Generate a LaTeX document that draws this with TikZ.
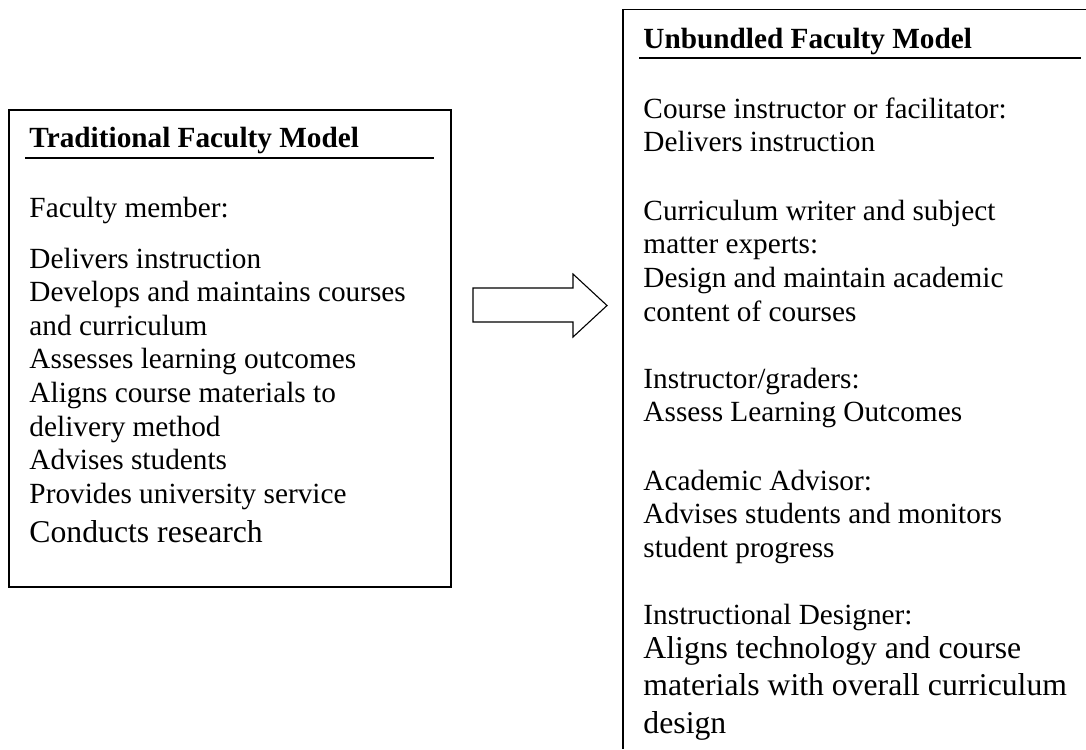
\documentclass[tikz,border=0pt]{standalone}
\usepackage{fontspec}
\setmainfont{Liberation Serif}
\begin{document}
\begin{tikzpicture}[x=0.41pt,y=-0.41pt]

        \tikzset{
          frame/.style={draw,line width=0.8pt},
          rule/.style={draw,line width=0.8pt},
          blockarrow/.style={draw,line width=0.45pt},
          entry/.style={anchor=base west,inner sep=0pt,align=left,font=\fontsize{12}{13.8}\selectfont},
          bigentry/.style={entry,font=\fontsize{13}{15.2}\selectfont},
          heading/.style={entry,font=\fontsize{12}{13.8}\selectfont\bfseries}
        }

        \useasboundingbox (0,0) rectangle (1086,749);

        % traditional model (multi-line nodes sit on their last baseline)
        \coordinate (tradnw) at (9,110);
        \coordinate (tradse) at (451,587);
        \draw[frame] (tradnw) rectangle (tradse);
        \node[heading] (tradhead) at (29,147) {Traditional Faculty Model};
        \draw[rule] (25,158) -- (434,158);
        \node[entry] (member) at (29,217) {Faculty member:};
        \node[entry] (duties) at (29,503.6) {Delivers instruction\\
          Develops and maintains courses\\and curriculum\\
          Assesses learning outcomes\\Aligns course materials to\\
          delivery method\\Advises students\\Provides university service};
        \node[bigentry] (research) at (29,542) {Conducts research};

        % arrow
        \coordinate (shaft) at (473,288);
        \draw[blockarrow] (shaft) -- ++(100,0) -- ++(0,-14) -- ++(34,31.5)
          -- ++(-34,31.5) -- ++(0,-15) -- ++(-100,0) -- cycle;

        % unbundled model
        \coordinate (unbnw) at (623,9.5);
        \draw[frame] (1086,9.5) -- (unbnw) -- (623,749);
        \node[heading] (unbhead) at (643,48) {Unbundled Faculty Model};
        \draw[rule] (639,58) -- (1081,58);
        \node[entry] (instructor) at (643,151.7) {Course instructor or facilitator:\\
          Delivers instruction};
        \node[entry] (writer) at (643,321) {Curriculum writer and subject\\
          matter experts:\\Design and maintain academic\\content of courses};
        \node[entry] (graders) at (643,421.7) {Instructor/graders:\\
          Assess Learning Outcomes};
        \node[entry] (advisor) at (643,557.3) {Academic Advisor:\\
          Advises students and monitors\\student progress};
        \node[entry] (designer) at (643,624) {Instructional Designer:};
        \node[bigentry] (aligns) at (643,733) {Aligns technology and course\\
          materials with overall curriculum\\design};

      \end{tikzpicture}
\end{document}
